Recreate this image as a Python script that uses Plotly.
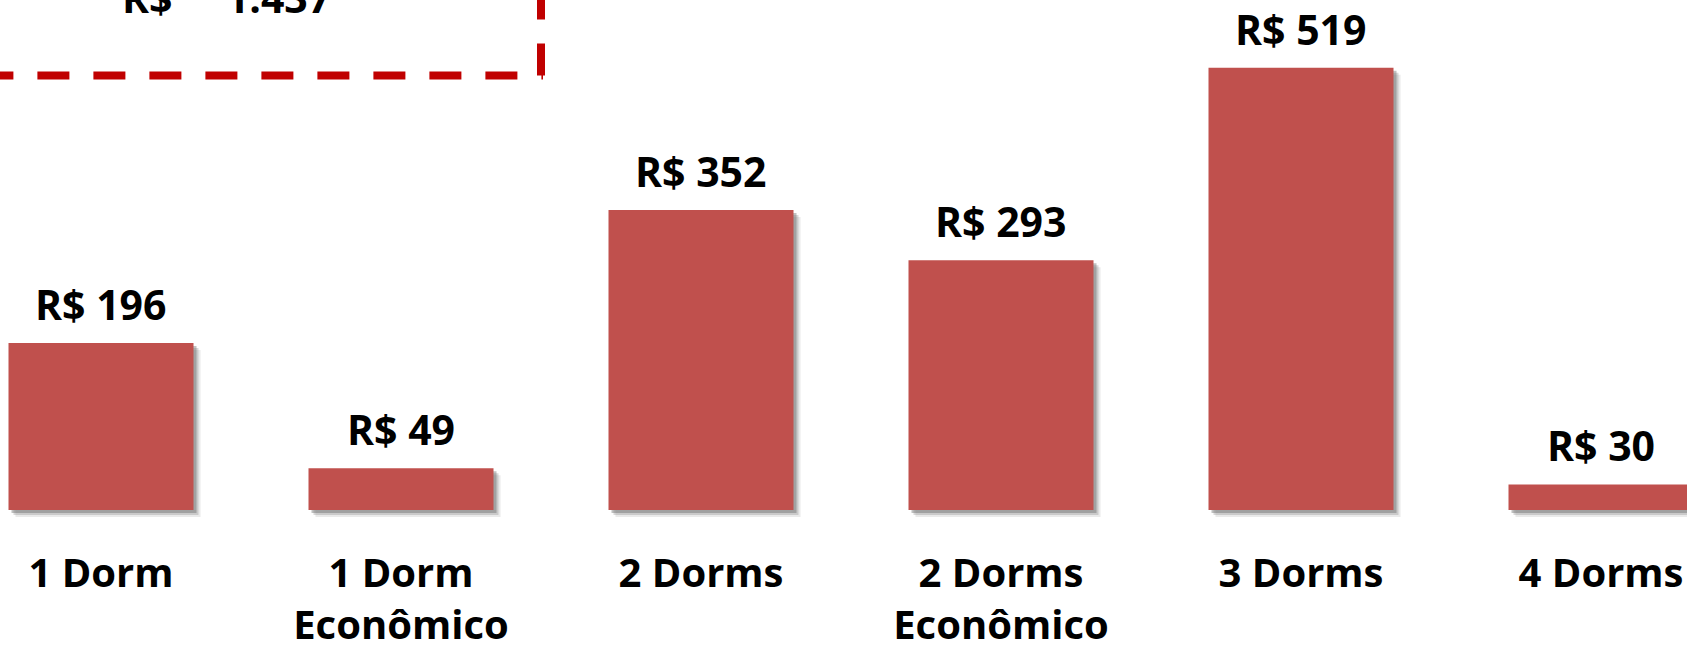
import plotly.graph_objects as go

categories = ["1 Dorm", "1 Dorm Econômico", "2 Dorms", "2 Dorms Econômico", "3 Dorms", "4 Dorms"]
tick_labels = ["1 Dorm", "1 Dorm<br>Econômico", "2 Dorms", "2 Dorms<br>Econômico", "3 Dorms", "4 Dorms"]
values = [196, 49, 352, 293, 519, 30]
total_label = "R$\u00a0\u00a0\u00a0\u00a0\u00a01.437"

W, H = 1687, 647
PX_PER_CAT = 300.0
PPU = 0.852
BASE_PX = 510          # baseline in figure pixels
PLOT_H = BASE_PX + 7
BAR_W = 185 / PX_PER_CAT
FONT = "Open Sans"
BAR_COLOR = "#C0504D"

x_lo = -101 / PX_PER_CAT
x_hi = x_lo + W / PX_PER_CAT
y_lo = -(PLOT_H - BASE_PX) / PPU
y_hi = y_lo + PLOT_H / PPU

fig = go.Figure()

# soft shadows
for dpx, col in [(7, "rgba(160,160,160,0.22)"), (5, "rgba(130,130,130,0.3)"), (3, "rgba(100,100,100,0.4)")]:
    fig.add_trace(go.Bar(
        x=categories, y=values, base=-dpx / PPU,
        width=BAR_W, offset=-BAR_W / 2 + dpx / PX_PER_CAT,
        marker=dict(color=col, line=dict(width=0)),
        hoverinfo="skip", showlegend=False,
    ))

fig.add_trace(go.Bar(
    x=categories, y=values, width=BAR_W, offset=-BAR_W / 2,
    marker=dict(color=BAR_COLOR, line=dict(width=0)),
    showlegend=False,
))

for c, v in zip(categories, values):
    fig.add_annotation(
        x=c, y=v, xref="x", yref="y", text=f"<b>R$ {v}</b>",
        showarrow=False, yanchor="middle", yshift=39,
        font=dict(family=FONT, size=41, color="#000000"),
    )

def px_x(p):
    return p / W

def px_y(p):
    return 1 - p / PLOT_H

fig.add_annotation(
    x=px_x(120), y=px_y(-2.5), xref="paper", yref="paper",
    text=f"<b>{total_label}</b>", showarrow=False,
    xanchor="left", yanchor="middle",
    font=dict(family=FONT, size=41, color="#000000"),
)

dash_line = dict(color="#C00000", width=8, dash="32px,24px")
fig.add_shape(type="line", xref="paper", yref="paper",
              x0=px_x(-18.6), y0=px_y(75.5), x1=px_x(543), y1=px_y(75.5),
              line=dash_line)
fig.add_shape(type="line", xref="paper", yref="paper",
              x0=px_x(541), y0=px_y(75.5), x1=px_x(541), y1=px_y(-60),
              line=dash_line)

fig.update_layout(
    width=W, height=H,
    margin=dict(l=0, r=0, t=0, b=H - PLOT_H, pad=0, autoexpand=False),
    barmode="overlay",
    paper_bgcolor="white", plot_bgcolor="white",
    font=dict(family=FONT, size=40, color="#000000"),
    xaxis=dict(
        type="category", range=[x_lo, x_hi], automargin=False,
        tickvals=categories,
        ticktext=[f"<b>{t}</b>".replace("<br>", "</b><br><b>") for t in tick_labels],
        showgrid=False, zeroline=False, showline=False, ticks="",
        tickfont=dict(family=FONT, size=40, color="#000000"),
        ticklabelstandoff=29,
    ),
    yaxis=dict(range=[y_lo, y_hi], visible=False, automargin=False,
               showgrid=False, zeroline=False),
)

fig.write_html(
    "out.html",
    config={"displayModeBar": False},
    post_script="document.body.style.margin='0';document.body.style.overflow='hidden';",
)
